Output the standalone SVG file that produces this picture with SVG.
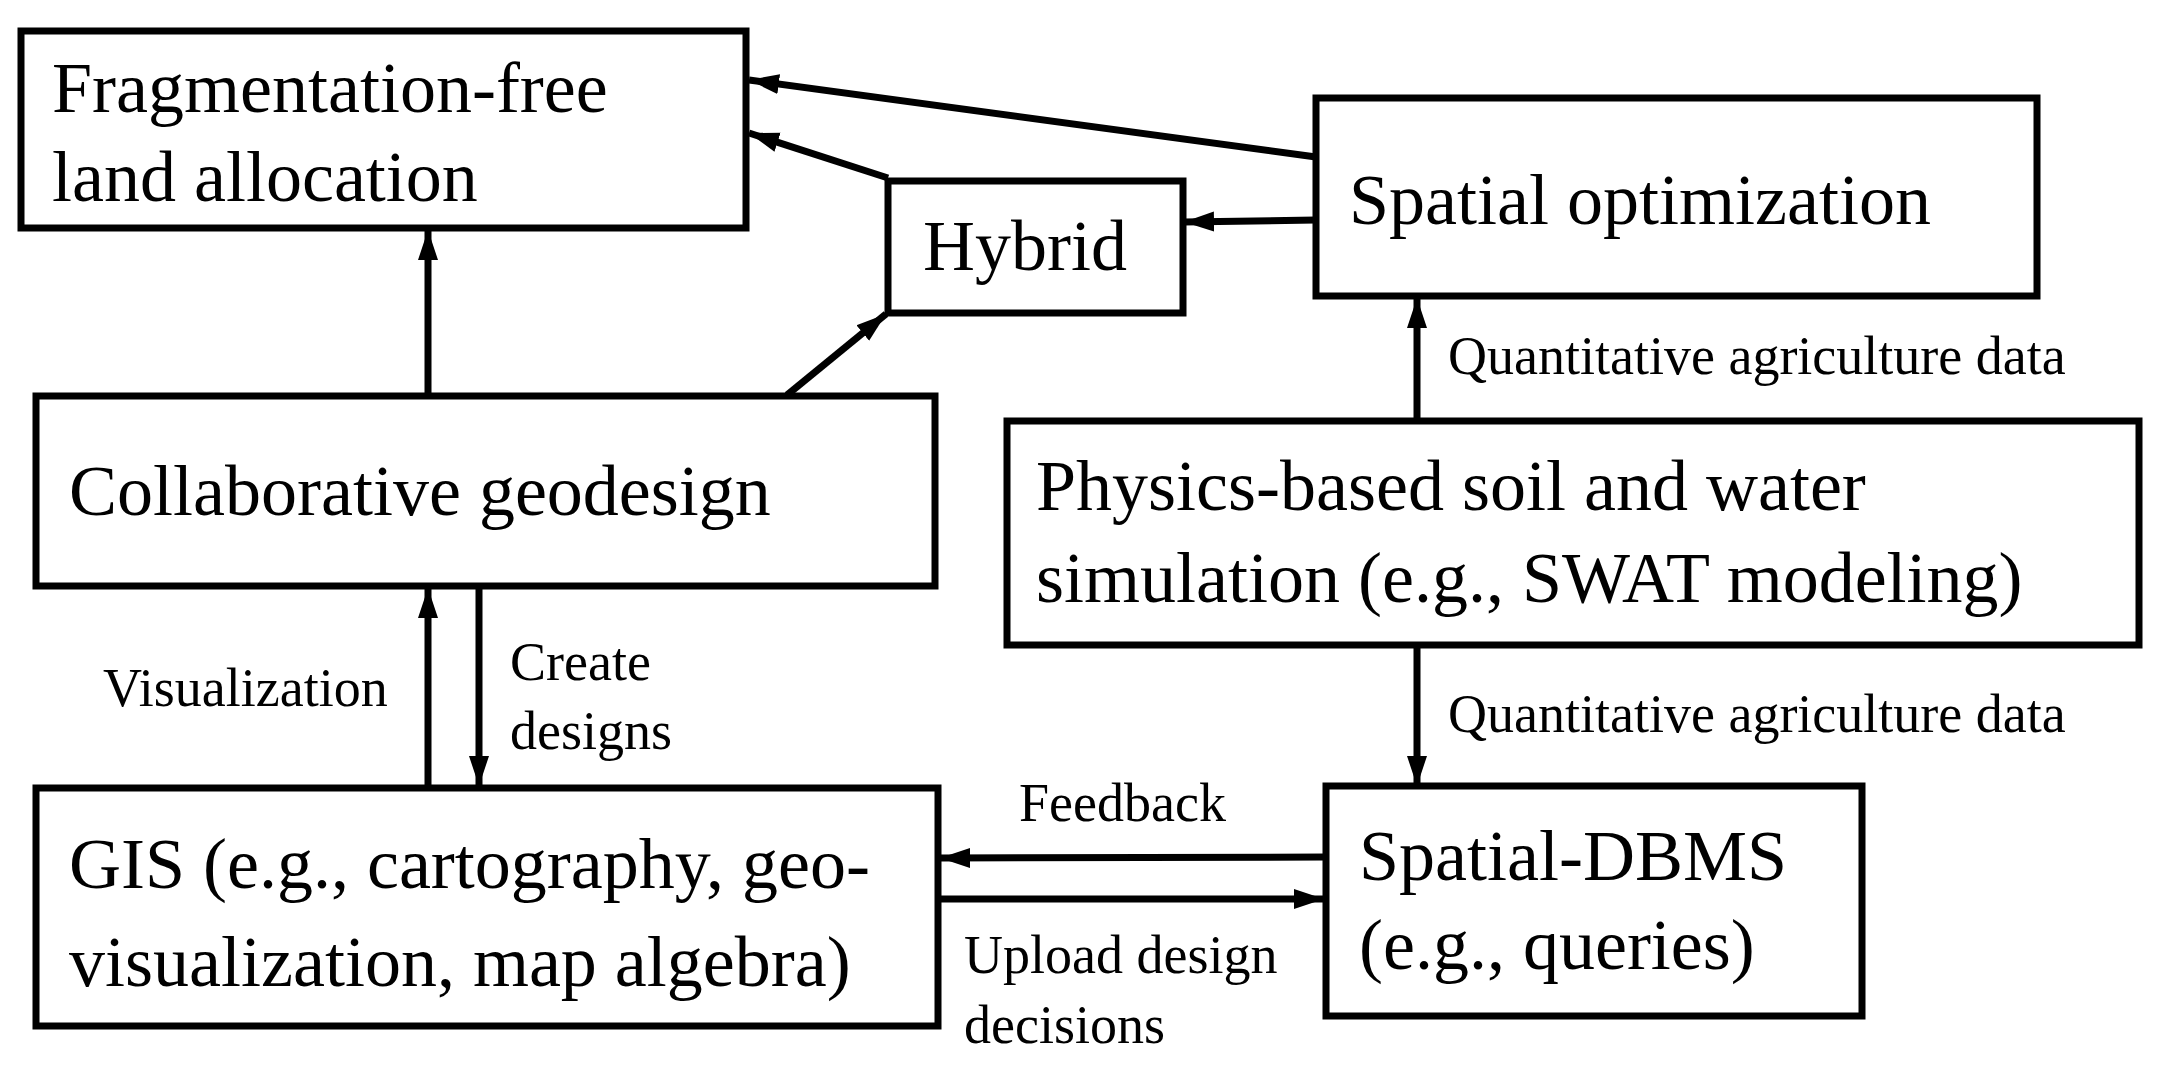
<svg xmlns="http://www.w3.org/2000/svg" width="2160" height="1065" viewBox="0 0 2160 1065">
<style>
.box{fill:#fff;stroke:#000;stroke-width:7}
.t{font-family:"Liberation Serif","Times New Roman",serif;font-size:72px;fill:#000}
.s{font-family:"Liberation Serif","Times New Roman",serif;font-size:54px;fill:#000}
.c{stroke:#000;stroke-width:7;fill:none;marker-end:url(#ah)}
</style>
<defs>
<marker id="ah" markerUnits="userSpaceOnUse" markerWidth="34" markerHeight="24" refX="30" refY="12" orient="auto">
<path d="M0,2 L30,12 L0,22 Z" fill="#000"/>
</marker>
</defs>
<rect width="2160" height="1065" fill="#fff"/>
<g id="connectors">
<line class="c" x1="1316" y1="157" x2="749" y2="80"/>
<line class="c" x1="888" y1="178" x2="749" y2="133"/>
<line class="c" x1="1316" y1="220" x2="1184" y2="222"/>
<line class="c" x1="428" y1="395" x2="428" y2="230"/>
<line class="c" x1="787" y1="395" x2="886" y2="314"/>
<line class="c" x1="1417" y1="421" x2="1417" y2="298"/>
<line class="c" x1="1417" y1="645" x2="1417" y2="786"/>
<line class="c" x1="428" y1="788" x2="428" y2="588"/>
<line class="c" x1="479" y1="586" x2="479" y2="786"/>
<line class="c" x1="1326" y1="857" x2="940" y2="858"/>
<line class="c" x1="938" y1="899" x2="1324" y2="899"/>
<text class="s" x="1448" y="374">Quantitative agriculture data</text>
<text class="s" x="1448" y="732">Quantitative agriculture data</text>
<text class="s" x="103" y="706">Visualization</text>
<text class="s" x="510" y="680">Create</text>
<text class="s" x="510" y="749">designs</text>
<text class="s" x="1019" y="821">Feedback</text>
<text class="s" x="964" y="973">Upload design</text>
<text class="s" x="964" y="1043">decisions</text>
</g>
<g id="frag"><rect class="box" x="21" y="31" width="725" height="197"/>
<text class="t" x="52" y="112">Fragmentation-free</text><text class="t" x="52" y="201">land allocation</text></g>
<g id="collab"><rect class="box" x="36" y="396" width="899" height="190"/>
<text class="t" x="69" y="515">Collaborative geodesign</text></g>
<g id="hybrid"><rect class="box" x="888" y="181" width="295" height="132"/>
<text class="t" x="923" y="270">Hybrid</text></g>
<g id="spatialopt"><rect class="box" x="1316" y="98" width="721" height="198"/>
<text class="t" x="1349" y="224">Spatial optimization</text></g>
<g id="physics"><rect class="box" x="1007" y="421" width="1132" height="224"/>
<text class="t" x="1036" y="510">Physics-based soil and water</text><text class="t" x="1036" y="602">simulation (e.g., SWAT modeling)</text></g>
<g id="gis"><rect class="box" x="36" y="788" width="902" height="238"/>
<text class="t" x="69" y="888">GIS (e.g., cartography, geo-</text><text class="t" x="69" y="986">visualization, map algebra)</text></g>
<g id="dbms"><rect class="box" x="1326" y="786" width="536" height="230"/>
<text class="t" x="1359" y="880">Spatial-DBMS</text><text class="t" x="1359" y="969">(e.g., queries)</text></g>
</svg>
